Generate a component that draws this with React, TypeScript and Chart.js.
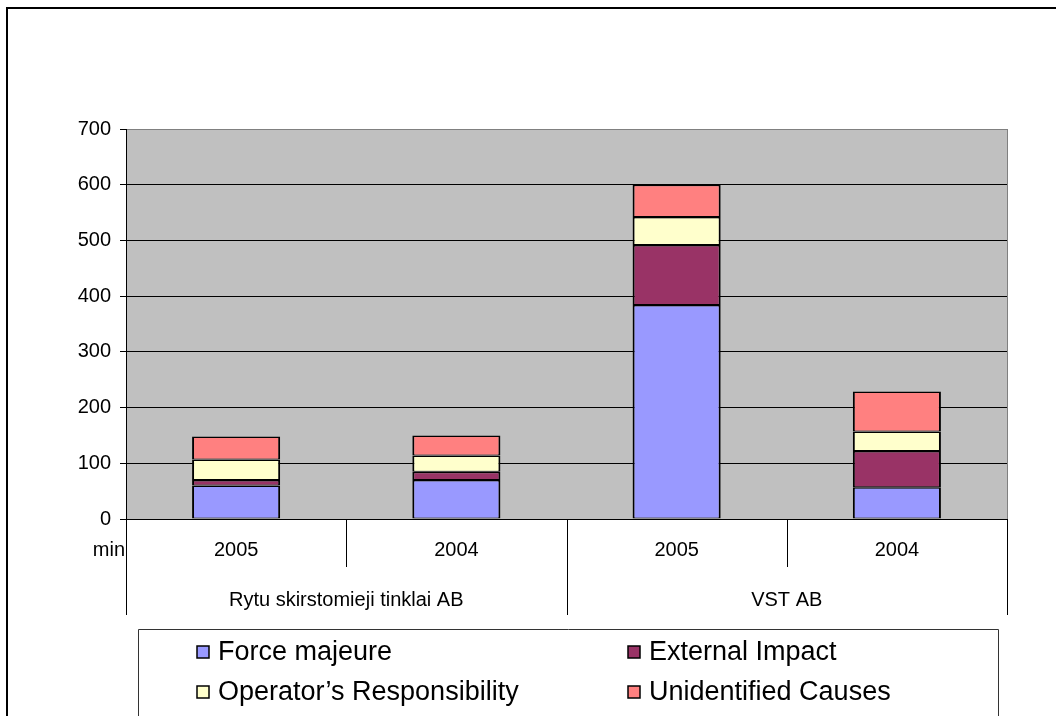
import React, { useEffect, useRef } from 'react';
import { Chart, registerables } from 'chart.js';

Chart.register(...registerables);

const categories = ['2005', '2004', '2005', '2004'];
const groupLabels = ['Rytu skirstomieji tinklai AB', 'VST AB'];
const groupSpans = [2, 2];
const unitLabel = 'min';

const seriesNames = ['Force majeure', 'External Impact', 'Operator\u2019s Responsibility', 'Unidentified Causes'];
const forceMajeure = [60, 70, 384, 57];
const externalImpact = [10, 15, 108, 65];
const operatorResponsibility = [37, 29, 50, 35];
const unidentifiedCauses = [41, 36, 58, 72];
const seriesColors = ['#9999FF', '#993366', '#FFFFCC', '#FF8080'];

const yMin = 0;
const yMax = 700;
const yStep = 100;

const FONT = '"Liberation Sans", Arial, Helvetica, sans-serif';

const decorPlugin = {
  id: 'decor',
  beforeDraw(chart: any) {
    const { ctx, chartArea } = chart;
    ctx.save();
    ctx.fillStyle = '#C0C0C0';
    ctx.fillRect(chartArea.left, chartArea.top, chartArea.right - chartArea.left, chartArea.bottom - chartArea.top);
    ctx.restore();
  },
  afterDraw(chart: any) {
    const { ctx, chartArea } = chart;
    const x = chart.scales.x;
    const left = chartArea.left;
    const right = chartArea.right;
    const bottom = chartArea.bottom;
    ctx.save();

    // outer frame
    ctx.strokeStyle = '#000';
    ctx.lineWidth = 2;
    ctx.beginPath();
    ctx.moveTo(7, 800);
    ctx.lineTo(7, 8);
    ctx.lineTo(1100, 8);
    ctx.stroke();

    // right border of plot area
    ctx.lineWidth = 1;
    ctx.strokeStyle = '#808080';
    ctx.beginPath();
    ctx.moveTo(Math.round(right) + 0.5, chartArea.top);
    ctx.lineTo(Math.round(right) + 0.5, bottom);
    ctx.stroke();

    // category axis line
    ctx.strokeStyle = '#000';
    ctx.beginPath();
    ctx.moveTo(left, Math.round(bottom) + 0.5);
    ctx.lineTo(right, Math.round(bottom) + 0.5);
    ctx.stroke();

    // separators
    const n = categories.length;
    const bounds: number[] = [];
    for (let i = 0; i <= n; i++) {
      if (i === 0) bounds.push(left);
      else if (i === n) bounds.push(right);
      else bounds.push((x.getPixelForValue(i - 1) + x.getPixelForValue(i)) / 2);
    }
    const groupBounds = new Set<number>();
    let acc = 0;
    groupBounds.add(0);
    groupSpans.forEach((s) => { acc += s; groupBounds.add(acc); });
    ctx.strokeStyle = '#000';
    ctx.lineWidth = 1;
    bounds.forEach((bx, i) => {
      const len = groupBounds.has(i) ? 96 : 48;
      const px = Math.round(bx) + 0.5;
      ctx.beginPath();
      ctx.moveTo(px, bottom);
      ctx.lineTo(px, bottom + len);
      ctx.stroke();
    });

    // category labels
    ctx.fillStyle = '#000';
    ctx.font = `20px ${FONT}`;
    ctx.textAlign = 'center';
    ctx.textBaseline = 'middle';
    categories.forEach((c, i) => {
      ctx.fillText(c, x.getPixelForValue(i), bottom + 31);
    });
    // group labels
    acc = 0;
    groupLabels.forEach((g, gi) => {
      const a = bounds[acc];
      const b = bounds[acc + groupSpans[gi]];
      ctx.fillText(g, (a + b) / 2, bottom + 81);
      acc += groupSpans[gi];
    });
    // unit label
    ctx.textAlign = 'right';
    ctx.fillText(unitLabel, left - 1, bottom + 31);

    // legend box
    ctx.strokeStyle = '#333';
    ctx.lineWidth = 1;
    ctx.beginPath();
    ctx.moveTo(138.5, 800);
    ctx.lineTo(138.5, 629.5);
    ctx.lineTo(998.5, 629.5);
    ctx.lineTo(998.5, 800);
    ctx.stroke();

    const colX = [197, 628];
    const rowY = [652, 692];
    ctx.font = `27px ${FONT}`;
    ctx.textAlign = 'left';
    ctx.textBaseline = 'middle';
    chart.data.datasets.forEach((ds: any, i: number) => {
      const cx = colX[i % 2];
      const cy = rowY[Math.floor(i / 2)];
      ctx.fillStyle = ds.backgroundColor;
      ctx.fillRect(cx, cy - 6, 12, 12);
      ctx.strokeStyle = '#000';
      ctx.lineWidth = 1.5;
      ctx.strokeRect(cx, cy - 6, 12, 12);
      ctx.fillStyle = '#000';
      ctx.fillText(ds.label, cx + 21, cy + 1);
    });

    ctx.restore();
  },
};

export default function App() {
  const ref = useRef<HTMLCanvasElement | null>(null);

  useEffect(() => {
    document.body.style.margin = '0';
    const canvas = ref.current;
    if (!canvas) return;
    const seriesData = [forceMajeure, externalImpact, operatorResponsibility, unidentifiedCauses];
    const chart = new Chart(canvas, {
      type: 'bar',
      data: {
        labels: categories,
        datasets: seriesNames.map((name, i) => ({
          label: name,
          data: seriesData[i],
          backgroundColor: seriesColors[i],
          borderColor: '#000',
          borderWidth: { top: 1.5, bottom: 1, left: 2, right: 2 },
          borderSkipped: false,
          barPercentage: 0.4,
          categoryPercentage: 1,
        })),
      },
      options: {
        responsive: false,
        animation: false,
        devicePixelRatio: 1,
        layout: { padding: { left: 0, top: 129, right: 49, bottom: 197 } },
        plugins: {
          legend: { display: false },
          tooltip: { enabled: false },
        },
        scales: {
          x: {
            type: 'category',
            stacked: true,
            display: false,
          },
          y: {
            stacked: true,
            min: yMin,
            max: yMax,
            afterFit: (scale: any) => { scale.width = 126; },
            ticks: {
              stepSize: yStep,
              color: '#000',
              padding: 9,
              font: { family: FONT, size: 20 },
            },
            grid: {
              color: (c: any) => (c.tick && c.tick.value === yMax ? '#808080' : '#000'),
              tickColor: '#000',
              tickLength: 6,
              lineWidth: 1,
            },
            border: { color: '#000', width: 1 },
          },
        },
      },
      plugins: [decorPlugin],
    } as any);
    return () => chart.destroy();
  }, []);

  return (
    <canvas ref={ref} width={1056} height={716} style={{ display: 'block', width: 1056, height: 716 }} />
  );
}
